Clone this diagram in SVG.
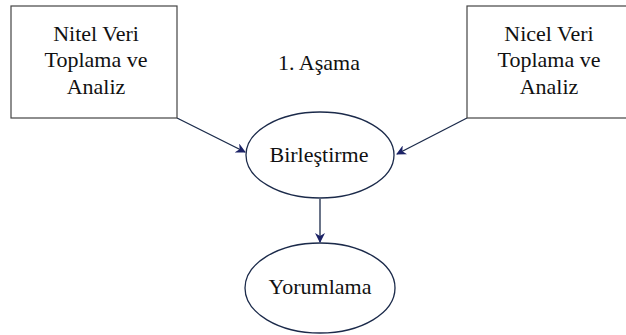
<svg xmlns="http://www.w3.org/2000/svg" width="626" height="335" viewBox="0 0 626 335">
<defs>
<marker id="ah" markerWidth="10" markerHeight="10" refX="9" refY="5" orient="auto" markerUnits="userSpaceOnUse">
<path d="M0,0 L10,5 L0,10 L3,5 Z" fill="#1b2266"/>
</marker>
<style>
.box{fill:#fff;stroke:#444;stroke-width:1.2}
.ell{fill:#fff;stroke:#1b2a4a;stroke-width:1.3}
.t{font-family:"Liberation Serif",serif;font-size:22px;fill:#111;text-anchor:middle}
.c{stroke:#1b2a4a;stroke-width:1.3;fill:none;marker-end:url(#ah)}
</style>
</defs>
<rect width="626" height="335" fill="#fff"/>
<g id="connectors">
<line class="c" x1="177" y1="118" x2="245" y2="152"/>
<line class="c" x1="467" y1="118" x2="397" y2="154"/>
<line class="c" x1="320" y1="199" x2="320" y2="242"/>
</g>
<g id="nitel">
<rect class="box" x="11" y="6" width="166" height="112"/>
<text class="t" x="96" y="41">Nitel Veri</text>
<text class="t" x="96" y="67">Toplama ve</text>
<text class="t" x="96" y="94">Analiz</text>
</g>
<g id="nicel">
<rect class="box" x="467" y="6" width="165" height="112"/>
<text class="t" x="549" y="41">Nicel Veri</text>
<text class="t" x="549" y="67">Toplama ve</text>
<text class="t" x="549" y="94">Analiz</text>
</g>
<g id="asama">
<text class="t" x="319" y="70">1. Aşama</text>
</g>
<g id="birlestirme">
<ellipse class="ell" cx="320" cy="155" rx="74" ry="43"/>
<text class="t" x="319" y="162">Birleştirme</text>
</g>
<g id="yorumlama">
<ellipse class="ell" cx="320" cy="288" rx="75" ry="45"/>
<text class="t" x="320" y="294">Yorumlama</text>
</g>
</svg>
